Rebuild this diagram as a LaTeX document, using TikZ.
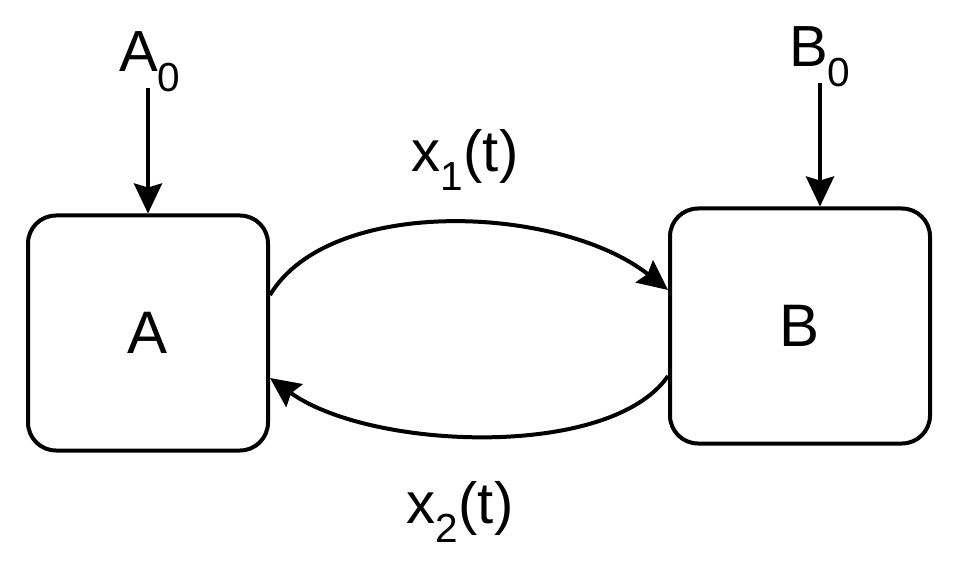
\documentclass[tikz,border=0pt]{standalone}
\usepackage{fontspec}
\setmainfont{Liberation Sans}
\usetikzlibrary{arrows.meta}
\begin{document}
\begin{tikzpicture}[x=1pt,y=-1pt,
  box/.style={draw,line width=4pt,rounded corners=28pt,minimum width=240pt,minimum height=235pt,inner sep=0pt,font=\fontsize{60}{64}\selectfont},
  lbl/.style={font=\fontsize{58}{62}\selectfont,inner sep=0pt},
  arr/.style={line width=4pt,-{Stealth[length=30pt,width=28pt,inset=4pt]}}]
\useasboundingbox (0,0) rectangle (954,572);
\node[box] (A) at (148,333) {A};
\node[box,minimum width=260pt] (B) at (800,326) {B};
\node[lbl] (A0) at (150,62) {A$_{\mathrm 0}$};
\node[lbl] (B0) at (820,57) {B$_{\mathrm 0}$};
\node[lbl] (x1) at (465,160) {x$_{\mathrm 1}$(t)};
\node[lbl] (x2) at (460,512) {x$_{\mathrm 2}$(t)};
\draw[arr] ([xshift=-2pt,yshift=4pt]A0.south) -- (A.north);
\draw[arr] ([yshift=4pt]B0.south) -- ([xshift=20pt]B.north);
\draw[arr] ([yshift=38pt]A.east) .. controls (330,195) and (560,205) .. ([yshift=36pt]B.west);
\draw[arr] ([yshift=-50pt]B.west) .. controls (610,460) and (370,450) .. ([yshift=-45pt]A.east);
\end{tikzpicture}
\end{document}
